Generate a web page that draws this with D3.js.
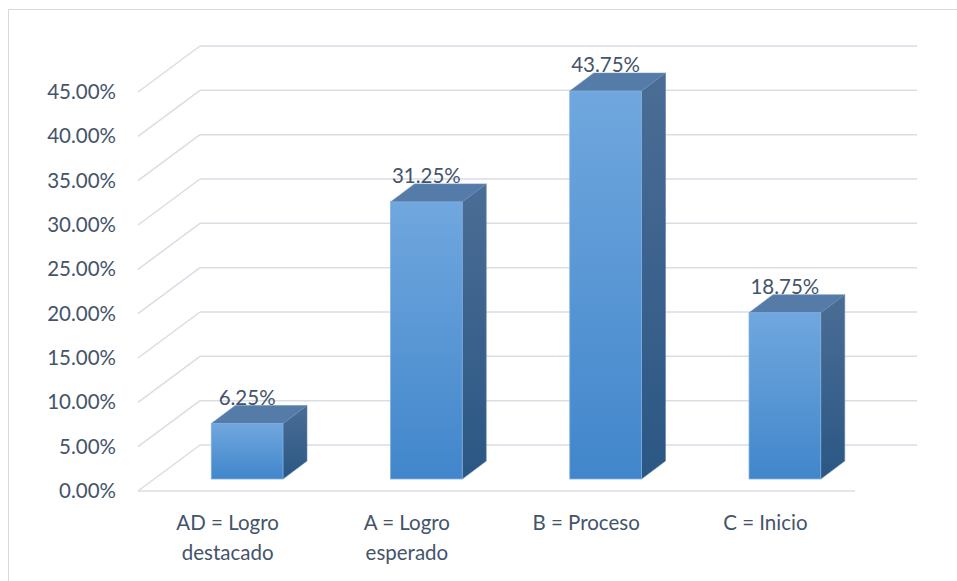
<!DOCTYPE html>
<html>
<head>
<meta charset="utf-8">
<script src="https://cdn.jsdelivr.net/npm/d3@7"></script>
<style>
  body { margin: 0; background: #fff; }
  svg { font-family: Lato, "Open Sans", sans-serif; }
</style>
</head>
<body>
<div id="chart"></div>
<script>
// Daten
const categories = ["AD = Logro destacado", "A = Logro esperado", "B = Proceso", "C = Inicio"];
const categoryLines = [["AD = Logro", "destacado"], ["A = Logro", "esperado"], ["B = Proceso"], ["C = Inicio"]];
const values = [0.0625, 0.3125, 0.4375, 0.1875];
const valueLabels = ["6.25%", "31.25%", "43.75%", "18.75%"];
const yTicks = [0, 0.05, 0.10, 0.15, 0.20, 0.25, 0.30, 0.35, 0.40, 0.45];

const width = 957, height = 581;
const back = { dx: 62, dy: -46 };      // Versatz der Rückwand
const front = { dx: 19.5, dy: -12 };   // Vorderseite der Balken
const depth = { dx: 24, dy: -18 };     // Tiefe der Balken

const svg = d3.select("#chart").append("svg")
    .attr("width", width)
    .attr("height", height);

const defs = svg.append("defs");
const gFront = defs.append("linearGradient").attr("id", "gFront")
    .attr("x1", 0).attr("y1", 0).attr("x2", 0).attr("y2", 1);
gFront.append("stop").attr("offset", "0%").attr("stop-color", "#70a7de");
gFront.append("stop").attr("offset", "100%").attr("stop-color", "#4186cb");
const gSide = defs.append("linearGradient").attr("id", "gSide")
    .attr("x1", 0).attr("y1", 0).attr("x2", 0).attr("y2", 1);
gSide.append("stop").attr("offset", "0%").attr("stop-color", "#4b6d95");
gSide.append("stop").attr("offset", "100%").attr("stop-color", "#2b5784");

// Rahmen
svg.append("rect")
    .attr("x", 8.5).attr("y", 9.5)
    .attr("width", 960).attr("height", 600)
    .attr("fill", "none")
    .attr("stroke", "#d9d9d9")
    .attr("stroke-width", 1);

// Skalen
const x = d3.scaleBand()
    .domain(categories)
    .range([138, 855]);

const y = d3.scaleLinear()
    .domain([0, 0.45])
    .range([491, 92]);

const grid = svg.append("g")
    .attr("stroke", "#d9dde4")
    .attr("stroke-width", 1.5)
    .attr("fill", "none");

// Rückwand-Gitterlinien
grid.selectAll("line.back")
    .data(yTicks)
    .enter()
    .append("line")
    .attr("class", "back")
    .attr("x1", 138 + back.dx)
    .attr("x2", 855 + back.dx)
    .attr("y1", d => y(d) + back.dy)
    .attr("y2", d => y(d) + back.dy);

// Seitenwand-Diagonalen
grid.selectAll("line.side")
    .data(yTicks)
    .enter()
    .append("line")
    .attr("class", "side")
    .attr("x1", 138)
    .attr("x2", 138 + back.dx)
    .attr("y1", d => y(d))
    .attr("y2", d => y(d) + back.dy);

// Boden vorne
grid.append("line")
    .attr("x1", 138).attr("x2", 855)
    .attr("y1", y(0)).attr("y2", y(0));

// Y-Achsenbeschriftung
svg.append("g")
    .selectAll("text")
    .data(yTicks)
    .enter()
    .append("text")
    .attr("x", 116)
    .attr("y", d => y(d) + 7)
    .attr("text-anchor", "end")
    .attr("font-size", "20.5px")
    .attr("fill", "#44546a")
    .text(d => d3.format(".2%")(d));

// Balken
const barW = x.bandwidth() * 0.4;
const bars = svg.append("g")
    .selectAll("g")
    .data(categories)
    .enter()
    .append("g");

bars.each(function (c, i) {
    const g = d3.select(this);
    const x0 = x(c) + x.bandwidth() / 2 - barW / 2 + front.dx;
    const x1 = x0 + barW;
    const yb = y(0) + front.dy;
    const yt = y(values[i]) + front.dy;

    // Seite
    g.append("path")
        .attr("d", `M${x1},${yt} L${x1 + depth.dx},${yt + depth.dy} L${x1 + depth.dx},${yb + depth.dy} L${x1},${yb} Z`)
        .attr("fill", "url(#gSide)")
        .attr("stroke", "#5b7ea6")
        .attr("stroke-width", 0.6);

    // Oberseite
    g.append("path")
        .attr("d", `M${x0},${yt} L${x0 + depth.dx},${yt + depth.dy} L${x1 + depth.dx},${yt + depth.dy} L${x1},${yt} Z`)
        .attr("fill", "#557ca8")
        .attr("stroke", "#6a8fb8")
        .attr("stroke-width", 0.6);

    // Vorderseite
    g.append("rect")
        .attr("x", x0)
        .attr("y", yt)
        .attr("width", barW)
        .attr("height", yb - yt)
        .attr("fill", "url(#gFront)")
        .attr("stroke", "#7fb0e0")
        .attr("stroke-width", 0.8);

    // Wertbeschriftung
    g.append("text")
        .attr("x", (x0 + x1) / 2)
        .attr("y", yt - 19)
        .attr("text-anchor", "middle")
        .attr("font-size", "20.5px")
        .attr("fill", "#44546a")
        .text(valueLabels[i]);
});

// Kategorienbeschriftung
const catLabels = svg.append("g")
    .selectAll("text")
    .data(categories)
    .enter()
    .append("text")
    .attr("x", d => x(d) + x.bandwidth() / 2)
    .attr("y", 530)
    .attr("text-anchor", "middle")
    .attr("font-size", "20.5px")
    .attr("fill", "#44546a");

catLabels.each(function (d, i) {
    const t = d3.select(this);
    categoryLines[i].forEach((line, k) => {
        t.append("tspan")
            .attr("x", x(d) + x.bandwidth() / 2)
            .attr("dy", k === 0 ? 0 : 30)
            .text(line);
    });
});
</script>
</body>
</html>
